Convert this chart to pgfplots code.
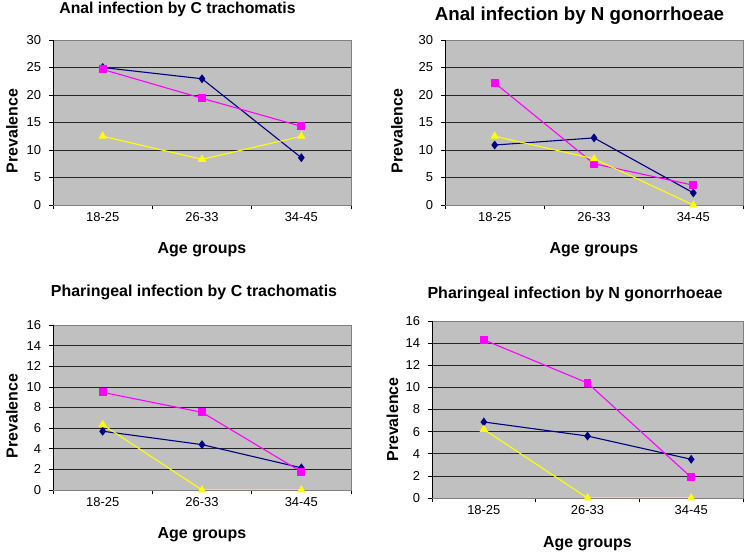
\documentclass[border=0pt]{standalone}
\usepackage{pgfplots}
\pgfplotsset{compat=1.18}
\usepackage{fontspec}
\setmainfont{Liberation Sans}
\definecolor{bgGray}{HTML}{C0C0C0}
\definecolor{frameGray}{HTML}{808080}
\definecolor{sNavy}{HTML}{000080}
\definecolor{sPink}{HTML}{FF00FF}
\definecolor{sYellow}{HTML}{FFFF00}
\newcommand{\tickfont}{\fontsize{13}{15}\selectfont}
\pgfplotsset{
  excel/.style={
    scale only axis,
    axis background/.style={fill=bgGray},
    axis line style={draw=frameGray, line width=0.8bp},
    xmin=-0.5, xmax=2.5, ymin=0,
    xtick={-0.5,0.5,1.5,2.5}, xticklabels={},
    extra x ticks={0,1,2},
    extra x tick labels={18-25,26-33,34-45},
    extra x tick style={major tick length=0pt, grid=none, xticklabel style={font=\tickfont}},
    tick align=outside, major tick length=4.5bp,
    tick style={draw=black, line width=0.6bp},
    xtick pos=bottom, ytick pos=left,
    ymajorgrids, grid style={draw=black!85, line width=0.7bp},
    /pgf/number format/assume math mode=true,
    every tick label/.append style={font=\tickfont},
    yticklabel style={font=\tickfont, xshift=-4bp},
    xticklabel style={font=\tickfont, yshift=-4bp},
    label style={font=\fontsize{16}{18}\selectfont\bfseries},
    xlabel={Age groups},
    ylabel={Prevalence},
    xlabel style={at={([yshift=-45bp]axis description cs:0.5,0)}, anchor=center},
    every axis plot/.append style={line width=1.1bp},
  },
  sA/.style={color=sNavy, mark=diamond*, mark size=3.6bp, mark options={fill=sNavy}},
  sB/.style={color=sPink, mark=square*, mark size=3.4bp, mark options={fill=sPink}},
  sC/.style={color=sYellow, mark=triangle*, mark size=3.8bp, mark options={fill=sYellow}},
}
\begin{document}
\begin{tikzpicture}[x=1bp,y=1bp]
\useasboundingbox (0,0) rectangle (750,554);
% Panel 1
\begin{axis}[excel, at={(53bp,349bp)}, anchor=south west, width=298bp, height=165bp,
  ymax=30, ytick={0,5,...,30},
  ylabel style={at={([xshift=-41bp, yshift=-8.5bp]axis description cs:0,0.5)}, anchor=center}]
\addplot[sA] coordinates {(0,25.0) (1,22.95) (2,8.6)};
\addplot[sB] coordinates {(0,24.65) (1,19.4) (2,14.3)};
\addplot[sC] coordinates {(0,12.5) (1,8.3) (2,12.5)};
\draw[black, line width=0.8bp] (rel axis cs:0,0) -- (rel axis cs:0,1);
\end{axis}
% Panel 2
\begin{axis}[excel, at={(445bp,349bp)}, anchor=south west, width=298bp, height=165bp,
  ymax=30, ytick={0,5,...,30},
  ylabel style={at={([xshift=-48bp, yshift=-8.5bp]axis description cs:0,0.5)}, anchor=center}]
\addplot[sA] coordinates {(0,10.9) (1,12.2) (2,2.2)};
\addplot[sB] coordinates {(0,22.2) (1,7.5) (2,3.6)};
\addplot[sC] coordinates {(0,12.5) (1,8.4) (2,0)};
\draw[black, line width=0.8bp] (rel axis cs:0,0) -- (rel axis cs:0,1);
\end{axis}
% Panel 3
\begin{axis}[excel, at={(53bp,64bp)}, anchor=south west, width=298bp, height=165bp,
  ymax=16, ytick={0,2,...,16},
  ylabel style={at={([xshift=-41bp, yshift=-8.5bp]axis description cs:0,0.5)}, anchor=center}]
\addplot[sA] coordinates {(0,5.7) (1,4.4) (2,2.15)};
\addplot[sB] coordinates {(0,9.47) (1,7.53) (2,1.77)};
\addplot[sC] coordinates {(0,6.34) (1,0) (2,0)};
\draw[black, line width=0.8bp] (rel axis cs:0,0) -- (rel axis cs:0,1);
\end{axis}
% Panel 4
\begin{axis}[excel, at={(432bp,56bp)}, anchor=south west, width=311bp, height=177bp,
  ymax=16, ytick={0,2,...,16},
  xlabel style={at={([yshift=-46bp]axis description cs:0.5,0)}},
  ylabel style={at={([xshift=-39.5bp, yshift=-10bp]axis description cs:0,0.5)}, anchor=center}]
\addplot[sA] coordinates {(0,6.87) (1,5.6) (2,3.5)};
\addplot[sB] coordinates {(0,14.3) (1,10.4) (2,1.87)};
\addplot[sC] coordinates {(0,6.2) (1,0) (2,0)};
\draw[black, line width=0.8bp] (rel axis cs:0,0) -- (rel axis cs:0,1);
\end{axis}
% Titles
\node[anchor=base, inner sep=0pt, font=\fontsize{15.8}{18}\selectfont\bfseries] at (177.5,540.7) {Anal infection by C trachomatis};
\node[anchor=base, inner sep=0pt, font=\fontsize{18.8}{21}\selectfont\bfseries] at (579.5,533.3) {Anal infection by N gonorrhoeae};
\node[anchor=base, inner sep=0pt, font=\fontsize{16}{18}\selectfont\bfseries] at (194,257.7) {Pharingeal infection by C trachomatis};
\node[anchor=base, inner sep=0pt, font=\fontsize{16.1}{18}\selectfont\bfseries] at (575,255.3) {Pharingeal infection by N gonorrhoeae};
\end{tikzpicture}
\end{document}
